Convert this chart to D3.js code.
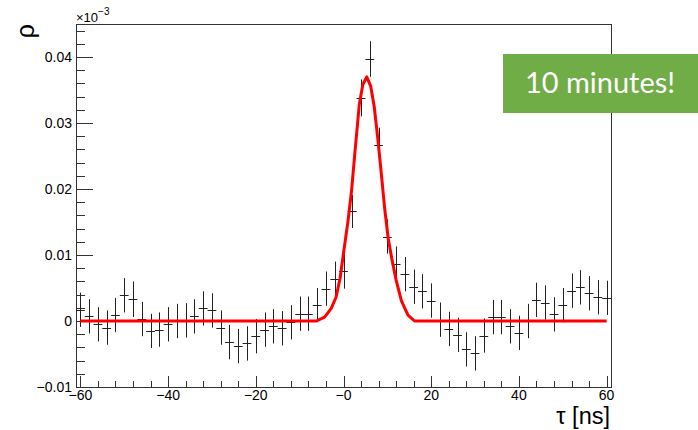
<!DOCTYPE html>
<html>
<head>
<meta charset="utf-8">
<script src="https://cdn.jsdelivr.net/npm/d3@7"></script>
<style>
  html, body { margin: 0; padding: 0; background: #fff; }
  svg { display: block; }
</style>
</head>
<body>
<svg id="chart" width="698" height="430"></svg>
<script>
// Bin centres (ns) of the correlation histogram
const tau = d3.range(-60, 61, 2);

// Measured correlation per bin
const rho = [
  0.0017, 0.0007, -0.0005, -0.0010, 0.0009, 0.0039, 0.0033, 0.0003, -0.0015, -0.0013,
  -0.0005, 0.0000, 0.0001, 0.0007, 0.0019, 0.0016, -0.0010, -0.0032, -0.0038, -0.0034,
  -0.0023, -0.0013, -0.0008, -0.0011, -0.0002, 0.0011, 0.0011, 0.0024, 0.0049, 0.0064,
  0.0075, 0.0166, 0.0338, 0.0397, 0.0266, 0.0128, 0.0087, 0.0071, 0.0052, 0.0045,
  0.0031, 0.0002, -0.0012, -0.0021, -0.0043, -0.0049, -0.0022, 0.0006, 0.0006, -0.0008,
  -0.0018, 0.0000, 0.0032, 0.0028, 0.0010, 0.0024, 0.0046, 0.0051, 0.0042, 0.0036,
  0.0035
];

// Statistical uncertainty per bin
const rhoErr = [
  0.0026, 0.0026, 0.0026, 0.0026, 0.0026, 0.0026, 0.0027, 0.0026, 0.0026, 0.0026,
  0.0026, 0.0026, 0.0026, 0.0026, 0.0026, 0.0026, 0.0026, 0.0026, 0.0026, 0.0026,
  0.0026, 0.0026, 0.0026, 0.0026, 0.0026, 0.0026, 0.0026, 0.0026, 0.0026, 0.0026,
  0.0026, 0.0025, 0.0028, 0.0027, 0.0027, 0.0026, 0.0026, 0.0026, 0.0026, 0.0026,
  0.0026, 0.0026, 0.0026, 0.0026, 0.0026, 0.0026, 0.0026, 0.0026, 0.0026, 0.0026,
  0.0026, 0.0026, 0.0026, 0.0026, 0.0026, 0.0026, 0.0026, 0.0026, 0.0026, 0.0026,
  0.0026
];

// Fitted peak (polyline vertices)
const fitTau = [-60, -6.2, -4.3, -2.8, -1.7, -0.8, 0.2, 1.0, 1.8, 2.6, 3.6, 4.4, 5.3,
                6.2, 7.0, 7.8, 8.6, 9.4, 10.2, 11.0, 12.0, 13.2, 14.7, 16.2, 60];
const fitRho = [0, 0, 0.0006, 0.0019, 0.0036, 0.0064, 0.0112, 0.0150, 0.0195, 0.0255, 0.0328, 0.0358, 0.0370,
                0.0356, 0.0325, 0.0278, 0.0225, 0.0170, 0.0125, 0.0095, 0.0062, 0.0031, 0.0009, 0, 0];

// Axis ticks and labels
const xMajor = [-60, -40, -20, 0, 20, 40, 60];
const xMajorLabels = ["\u221260", "\u221240", "\u221220", "\u22120", "20", "40", "60"];
const xMinor = d3.range(-60, 61, 4);
const yMajor = [-0.01, 0, 0.01, 0.02, 0.03, 0.04];
const yMajorLabels = ["\u22120.01", "0", "0.01", "0.02", "0.03", "0.04"];
const yMinor = d3.range(-0.01, 0.0445, 0.002);

const svg = d3.select("#chart");
const frameL = 76, frameR = 611, frameT = 24, frameB = 387;

const x = d3.scaleLinear().domain([-61, 61]).range([frameL, frameR]);
const y = d3.scaleLinear().domain([-0.01, 0.045]).range([frameB, frameT]);

const font = "'Liberation Sans', Arial, Helvetica, sans-serif";

// Plot frame
svg.append("rect")
  .attr("x", frameL + 0.5).attr("y", frameT + 0.5)
  .attr("width", frameR - frameL).attr("height", frameB - frameT)
  .attr("fill", "none").attr("stroke", "#333").attr("stroke-width", 1);

// Bottom axis ticks (pointing into the frame)
const gx = svg.append("g");
gx.selectAll("line.minor").data(xMinor).join("line")
  .attr("x1", d => Math.round(x(d)) + 0.5).attr("x2", d => Math.round(x(d)) + 0.5)
  .attr("y1", frameB).attr("y2", frameB - 6)
  .attr("stroke", "#333");
gx.selectAll("line.major").data(xMajor).join("line")
  .attr("x1", d => Math.round(x(d)) + 0.5).attr("x2", d => Math.round(x(d)) + 0.5)
  .attr("y1", frameB).attr("y2", frameB - 11)
  .attr("stroke", "#333");
gx.selectAll("text").data(xMajor).join("text")
  .attr("x", d => x(d)).attr("y", 399.5)
  .attr("text-anchor", "middle")
  .attr("font-family", font).attr("font-size", 14)
  .text((d, i) => xMajorLabels[i]);

// Left axis ticks
const gy = svg.append("g");
gy.selectAll("line.minor").data(yMinor).join("line")
  .attr("y1", d => Math.round(y(d)) + 0.5).attr("y2", d => Math.round(y(d)) + 0.5)
  .attr("x1", frameL).attr("x2", frameL + 9)
  .attr("stroke", "#333");
gy.selectAll("line.major").data(yMajor).join("line")
  .attr("y1", d => Math.round(y(d)) + 0.5).attr("y2", d => Math.round(y(d)) + 0.5)
  .attr("x1", frameL).attr("x2", frameL + 17)
  .attr("stroke", "#333");
gy.selectAll("text").data(yMajor).join("text")
  .attr("x", 72).attr("y", d => y(d) + 5)
  .attr("text-anchor", "end")
  .attr("font-family", font).attr("font-size", 14)
  .text((d, i) => yMajorLabels[i]);

// Exponent marker
const expo = svg.append("text").attr("x", 76).attr("y", 22)
  .attr("font-family", font).attr("font-size", 13);
expo.append("tspan").text("\u00d710");
expo.append("tspan").attr("dy", -7).attr("font-size", 10).text("\u22123");

// Axis titles
svg.append("text")
  .attr("transform", `translate(34,${frameT}) rotate(-90)`)
  .attr("text-anchor", "end")
  .attr("font-family", font).attr("font-size", 25)
  .text("\u03c1");
svg.append("text")
  .attr("x", frameR - 1).attr("y", 424)
  .attr("text-anchor", "end")
  .attr("font-family", font).attr("font-size", 23.5)
  .text("\u03c4 [ns]");

// Data points with error bars
svg.append("clipPath").attr("id", "frame")
  .append("rect").attr("x", frameL).attr("y", frameT)
  .attr("width", frameR - frameL).attr("height", frameB - frameT);
const pts = svg.append("g").attr("clip-path", "url(#frame)");
const data = tau.map((t, i) => ({ t, v: rho[i], e: rhoErr[i] }));
pts.selectAll("line.ey").data(data).join("line")
  .attr("x1", d => Math.round(x(d.t)) + 0.5).attr("x2", d => Math.round(x(d.t)) + 0.5)
  .attr("y1", d => y(d.v - d.e)).attr("y2", d => y(d.v + d.e))
  .attr("stroke", "#222").attr("stroke-width", 1);
pts.selectAll("line.ex").data(data).join("line")
  .attr("x1", d => x(d.t - 1)).attr("x2", d => x(d.t + 1))
  .attr("y1", d => Math.round(y(d.v)) + 0.5).attr("y2", d => Math.round(y(d.v)) + 0.5)
  .attr("stroke", "#222").attr("stroke-width", 1);

// Fit curve
const line = d3.line().x(d => x(d[0])).y(d => y(d[1]));
svg.append("path")
  .datum(fitTau.map((t, i) => [t, fitRho[i]]))
  .attr("d", line)
  .attr("fill", "none").attr("stroke", "#ff0000").attr("stroke-width", 3)
  .attr("stroke-linejoin", "round");

// Callout
svg.append("rect")
  .attr("x", 503).attr("y", 54).attr("width", 195).attr("height", 59)
  .attr("fill", "#70ad47");
svg.append("text")
  .attr("x", 600).attr("y", 93)
  .attr("text-anchor", "middle")
  .attr("font-family", "Lato, 'Open Sans', sans-serif").attr("font-size", 29)
  .attr("fill", "#fff")
  .text("10 minutes!");
</script>
</body>
</html>
